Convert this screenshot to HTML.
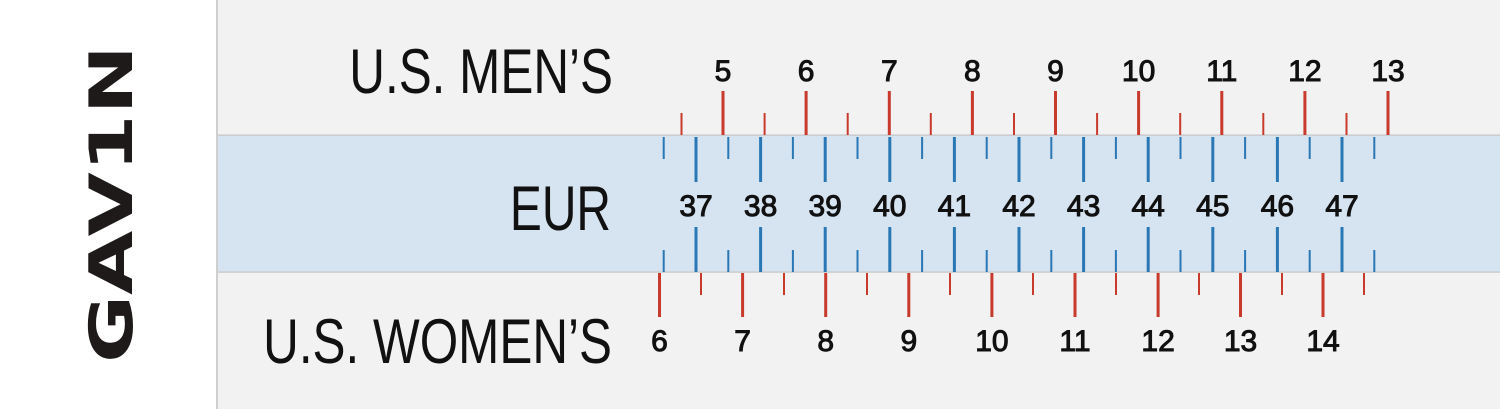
<!DOCTYPE html>
<html><head><meta charset="utf-8"><style>
html,body{margin:0;padding:0;width:1500px;height:409px;overflow:hidden;background:#f2f2f2}
svg{display:block}
.n{font-family:"Liberation Sans",sans-serif;font-size:30px;fill:#111;text-anchor:middle;stroke:#111;stroke-width:1}
.big{font-family:"Liberation Sans",sans-serif;font-size:63px;fill:#111;text-anchor:end}
</style></head><body>
<svg width="1500" height="409" viewBox="0 0 1500 409" xmlns="http://www.w3.org/2000/svg">
<rect x="0" y="0" width="217" height="409" fill="#fff"/>
<rect x="216" y="0" width="2" height="409" fill="#cfcfcf"/>
<rect x="218" y="135" width="1282" height="137" fill="#d6e3f0"/>
<rect x="218" y="134.5" width="1282" height="1.2" fill="#c4c4c4"/>
<rect x="218" y="271.5" width="1282" height="1.2" fill="#c4c4c4"/>
<!-- logo -->
<g transform="translate(132,363) rotate(-90)">
<text x="0" y="0" font-family="DejaVu Sans,Liberation Sans,sans-serif" font-weight="bold" font-size="60" fill="#1e1a1a" textLength="318" lengthAdjust="spacingAndGlyphs">GAV1N</text>
</g>
<!-- big labels -->
<g transform="translate(613,93) scale(0.785,1)"><text class="big" x="0" y="0">U.S. MEN’S</text></g>
<g transform="translate(611,230) scale(0.76,1)"><text class="big" x="0" y="0">EUR</text></g>
<g transform="translate(612,363) scale(0.785,1)"><text class="big" x="0" y="0">U.S. WOMEN’S</text></g>
<!-- men ticks -->
<g stroke="#c83a2b" stroke-width="3">
<line x1="723" y1="91" x2="723" y2="135"/><line x1="806.1" y1="91" x2="806.1" y2="135"/><line x1="889.3" y1="91" x2="889.3" y2="135"/><line x1="972.4" y1="91" x2="972.4" y2="135"/><line x1="1055.5" y1="91" x2="1055.5" y2="135"/><line x1="1138.6" y1="91" x2="1138.6" y2="135"/><line x1="1221.8" y1="91" x2="1221.8" y2="135"/><line x1="1304.9" y1="91" x2="1304.9" y2="135"/><line x1="1388" y1="91" x2="1388" y2="135"/>
</g>
<g stroke="#c83a2b" stroke-width="2">
<line x1="681.5" y1="113" x2="681.5" y2="135"/><line x1="764.6" y1="113" x2="764.6" y2="135"/><line x1="847.7" y1="113" x2="847.7" y2="135"/><line x1="930.8" y1="113" x2="930.8" y2="135"/><line x1="1014" y1="113" x2="1014" y2="135"/><line x1="1097.1" y1="113" x2="1097.1" y2="135"/><line x1="1180.2" y1="113" x2="1180.2" y2="135"/><line x1="1263.3" y1="113" x2="1263.3" y2="135"/><line x1="1346.5" y1="113" x2="1346.5" y2="135"/>
</g>
<!-- women ticks -->
<g stroke="#c83a2b" stroke-width="3">
<line x1="659.5" y1="273" x2="659.5" y2="317"/><line x1="742.6" y1="273" x2="742.6" y2="317"/><line x1="825.7" y1="273" x2="825.7" y2="317"/><line x1="908.8" y1="273" x2="908.8" y2="317"/><line x1="991.9" y1="273" x2="991.9" y2="317"/><line x1="1075" y1="273" x2="1075" y2="317"/><line x1="1158.1" y1="273" x2="1158.1" y2="317"/><line x1="1240.5" y1="273" x2="1240.5" y2="317"/><line x1="1323" y1="273" x2="1323" y2="317"/>
</g>
<g stroke="#c83a2b" stroke-width="2">
<line x1="701" y1="273" x2="701" y2="295"/><line x1="784" y1="273" x2="784" y2="295"/><line x1="867" y1="273" x2="867" y2="295"/><line x1="950" y1="273" x2="950" y2="295"/><line x1="1033" y1="273" x2="1033" y2="295"/><line x1="1116" y1="273" x2="1116" y2="295"/><line x1="1199" y1="273" x2="1199" y2="295"/><line x1="1282" y1="273" x2="1282" y2="295"/><line x1="1364" y1="273" x2="1364" y2="295"/>
</g>
<!-- eur ticks -->
<g stroke="#2a77b5" stroke-width="3">
<line x1="696" y1="137" x2="696" y2="182"/><line x1="760.6" y1="137" x2="760.6" y2="182"/><line x1="825.2" y1="137" x2="825.2" y2="182"/><line x1="889.8" y1="137" x2="889.8" y2="182"/><line x1="954.4" y1="137" x2="954.4" y2="182"/><line x1="1019" y1="137" x2="1019" y2="182"/><line x1="1083.6" y1="137" x2="1083.6" y2="182"/><line x1="1148.2" y1="137" x2="1148.2" y2="182"/><line x1="1212.8" y1="137" x2="1212.8" y2="182"/><line x1="1277.4" y1="137" x2="1277.4" y2="182"/><line x1="1342" y1="137" x2="1342" y2="182"/>
<line x1="696" y1="227" x2="696" y2="272"/><line x1="760.6" y1="227" x2="760.6" y2="272"/><line x1="825.2" y1="227" x2="825.2" y2="272"/><line x1="889.8" y1="227" x2="889.8" y2="272"/><line x1="954.4" y1="227" x2="954.4" y2="272"/><line x1="1019" y1="227" x2="1019" y2="272"/><line x1="1083.6" y1="227" x2="1083.6" y2="272"/><line x1="1148.2" y1="227" x2="1148.2" y2="272"/><line x1="1212.8" y1="227" x2="1212.8" y2="272"/><line x1="1277.4" y1="227" x2="1277.4" y2="272"/><line x1="1342" y1="227" x2="1342" y2="272"/>
</g>
<g stroke="#2a77b5" stroke-width="2">
<line x1="663.7" y1="137" x2="663.7" y2="159"/><line x1="728.3" y1="137" x2="728.3" y2="159"/><line x1="792.9" y1="137" x2="792.9" y2="159"/><line x1="857.5" y1="137" x2="857.5" y2="159"/><line x1="922.1" y1="137" x2="922.1" y2="159"/><line x1="986.7" y1="137" x2="986.7" y2="159"/><line x1="1051.3" y1="137" x2="1051.3" y2="159"/><line x1="1115.9" y1="137" x2="1115.9" y2="159"/><line x1="1180.5" y1="137" x2="1180.5" y2="159"/><line x1="1245.1" y1="137" x2="1245.1" y2="159"/><line x1="1309.7" y1="137" x2="1309.7" y2="159"/><line x1="1374.3" y1="137" x2="1374.3" y2="159"/>
<line x1="663.7" y1="250" x2="663.7" y2="272"/><line x1="728.3" y1="250" x2="728.3" y2="272"/><line x1="792.9" y1="250" x2="792.9" y2="272"/><line x1="857.5" y1="250" x2="857.5" y2="272"/><line x1="922.1" y1="250" x2="922.1" y2="272"/><line x1="986.7" y1="250" x2="986.7" y2="272"/><line x1="1051.3" y1="250" x2="1051.3" y2="272"/><line x1="1115.9" y1="250" x2="1115.9" y2="272"/><line x1="1180.5" y1="250" x2="1180.5" y2="272"/><line x1="1245.1" y1="250" x2="1245.1" y2="272"/><line x1="1309.7" y1="250" x2="1309.7" y2="272"/><line x1="1374.3" y1="250" x2="1374.3" y2="272"/>
</g>
<!-- numbers -->
<g class="n">
<text x="723" y="81">5</text><text x="806.1" y="81">6</text><text x="889.3" y="81">7</text><text x="972.4" y="81">8</text><text x="1055.5" y="81">9</text><text x="1138.6" y="81">10</text><text x="1221.8" y="81">11</text><text x="1304.9" y="81">12</text><text x="1388" y="81">13</text>
<text x="696" y="216">37</text><text x="760.6" y="216">38</text><text x="825.2" y="216">39</text><text x="889.8" y="216">40</text><text x="954.4" y="216">41</text><text x="1019" y="216">42</text><text x="1083.6" y="216">43</text><text x="1148.2" y="216">44</text><text x="1212.8" y="216">45</text><text x="1277.4" y="216">46</text><text x="1342" y="216">47</text>
<text x="659.5" y="351">6</text><text x="742.6" y="351">7</text><text x="825.7" y="351">8</text><text x="908.8" y="351">9</text><text x="991.9" y="351">10</text><text x="1075" y="351">11</text><text x="1158.1" y="351">12</text><text x="1240.5" y="351">13</text><text x="1323" y="351">14</text>
</g>
</svg>
</body></html>
